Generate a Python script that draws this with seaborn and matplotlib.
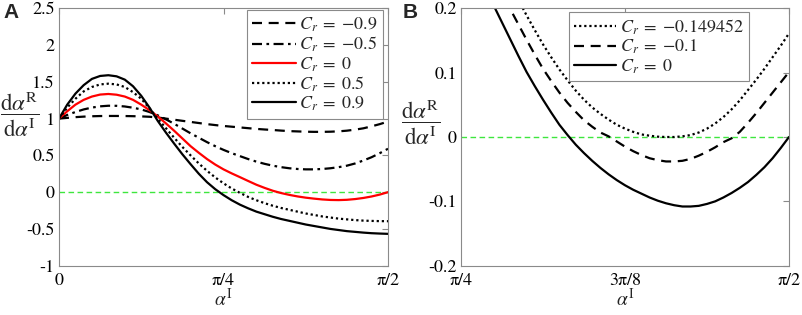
import numpy as np
import pandas as pd
import matplotlib
matplotlib.use("Agg")
import matplotlib.pyplot as plt
import seaborn as sns

# ---------------- data ----------------
# Panel A: alpha^I sampled at fractions of pi/2 (step 0.025)
tA = [0.000, 0.025, 0.050, 0.075, 0.100, 0.125, 0.150, 0.175, 0.200, 0.225,
      0.250, 0.275, 0.300, 0.325, 0.350, 0.375, 0.400, 0.425, 0.450, 0.475,
      0.500, 0.525, 0.550, 0.575, 0.600, 0.625, 0.650, 0.675, 0.700, 0.725,
      0.750, 0.775, 0.800, 0.825, 0.850, 0.875, 0.900, 0.925, 0.950, 0.975, 1.000]
A_cr_m09 = [1.0, 1.01, 1.02, 1.027, 1.032, 1.035, 1.036, 1.036, 1.035, 1.033,
            1.03, 1.025, 1.015, 1.0, 0.985, 0.97, 0.955, 0.94, 0.925, 0.912,
            0.90, 0.89, 0.88, 0.87, 0.86, 0.852, 0.845, 0.837, 0.83, 0.826,
            0.822, 0.82, 0.82, 0.822, 0.827, 0.836, 0.85, 0.868, 0.895, 0.925, 0.96]
A_cr_m05 = [1.0, 1.05, 1.09, 1.125, 1.15, 1.167, 1.175, 1.174, 1.165, 1.148,
            1.125, 1.09, 1.045, 0.99, 0.93, 0.865, 0.80, 0.74, 0.68, 0.625,
            0.575, 0.53, 0.49, 0.45, 0.415, 0.385, 0.36, 0.34, 0.325, 0.315,
            0.31, 0.31, 0.315, 0.325, 0.34, 0.36, 0.39, 0.43, 0.475, 0.53, 0.59]
A_cr_0 = [1.0, 1.10, 1.19, 1.255, 1.30, 1.327, 1.335, 1.325, 1.30, 1.255,
          1.19, 1.115, 1.03, 0.935, 0.835, 0.73, 0.625, 0.535, 0.45, 0.375,
          0.31, 0.255, 0.204, 0.152, 0.101, 0.058, 0.019, -0.012, -0.037, -0.058,
          -0.075, -0.088, -0.099, -0.106, -0.108, -0.104, -0.094, -0.079, -0.059, -0.033, 0.0]
A_cr_05 = [1.0, 1.15, 1.27, 1.37, 1.43, 1.465, 1.475, 1.465, 1.43, 1.36,
           1.27, 1.14, 1.0, 0.87, 0.74, 0.615, 0.50, 0.39, 0.29, 0.20,
           0.12, 0.05, -0.01, -0.065, -0.11, -0.15, -0.185, -0.215, -0.24, -0.265,
           -0.29, -0.31, -0.33, -0.345, -0.36, -0.37, -0.38, -0.387, -0.391, -0.394, -0.395]
A_cr_09 = [1.0, 1.19, 1.34, 1.455, 1.54, 1.58, 1.59, 1.575, 1.53, 1.44,
           1.31, 1.15, 0.97, 0.81, 0.66, 0.515, 0.38, 0.25, 0.135, 0.04,
           -0.04, -0.11, -0.17, -0.22, -0.265, -0.30, -0.335, -0.365, -0.39, -0.415,
           -0.44, -0.46, -0.48, -0.50, -0.515, -0.53, -0.54, -0.55, -0.558, -0.563, -0.567]
A_labels = [r"$C_r\;=\;{-0.9}$", r"$C_r\;=\;{-0.5}$", r"$C_r\;=\;0$",
            r"$C_r\;=\;0.5$", r"$C_r\;=\;0.9$"]

# Panel B: alpha^I sampled at fractions of the interval [pi/4, pi/2] (step 0.025)
tB = tA
B_cr_crit = [0.40, 0.372, 0.344, 0.317, 0.29, 0.264, 0.238, 0.213, 0.189, 0.166,
             0.144, 0.124, 0.105, 0.088, 0.072, 0.058, 0.046, 0.036, 0.027, 0.019,
             0.013, 0.008, 0.004, 0.002, 0.0005, 0.0, 0.0, 0.001, 0.003, 0.007,
             0.013, 0.021, 0.031, 0.043, 0.057, 0.073, 0.089, 0.106, 0.124, 0.142, 0.161]
B_cr_m01 = [0.355, 0.328, 0.301, 0.275, 0.249, 0.224, 0.199, 0.175, 0.151, 0.128,
            0.106, 0.087, 0.069, 0.053, 0.039, 0.026, 0.016, 0.007, 0.001, -0.007,
            -0.015, -0.022, -0.028, -0.033, -0.036, -0.038, -0.038, -0.037, -0.034, -0.029,
            -0.023, -0.016, -0.008, -0.002, 0.008, 0.022, 0.037, 0.053, 0.069, 0.085, 0.101]
B_cr_0 = [0.31, 0.282, 0.255, 0.229, 0.204, 0.178, 0.152, 0.126, 0.101, 0.079,
          0.058, 0.038, 0.019, 0.003, -0.012, -0.025, -0.037, -0.048, -0.058, -0.067,
          -0.075, -0.082, -0.088, -0.094, -0.099, -0.103, -0.106, -0.108, -0.108, -0.107,
          -0.104, -0.100, -0.094, -0.087, -0.079, -0.070, -0.059, -0.047, -0.033, -0.017, 0.0]
B_labels = [r"$C_r\;=\;{-0.149452}$", r"$C_r\;=\;{-0.1}$", r"$C_r\;=\;0$"]

A_xticklabels = ["0", "π/4", "π/2"]
A_yticklabels = ["-1", "-0.5", "0", "0.5", "1", "1.5", "2", "2.5"]
B_xticklabels = ["π/4", "3π/8", "π/2"]
B_yticklabels = ["-0.2", "-0.1", "0", "0.1", "0.2"]

# ---------------- styling ----------------
sns.set_style("white")
plt.rcParams["font.family"] = ["STIXGeneral", "DejaVu Serif"]
plt.rcParams["mathtext.fontset"] = "stix"
plt.rcParams["axes.unicode_minus"] = True

fig = plt.figure(figsize=(8.03, 3.15), dpi=100)
W, H = 803, 315
axA = fig.add_axes([59 / W, (H - 265.7) / H, (388 - 59) / W, (265.7 - 8.3) / H])
axB = fig.add_axes([461 / W, (H - 265.7) / H, (789 - 461) / W, (265.7 - 8.3) / H])

spine_col = "#8a8a8a"
green = "#3ee63e"
dot = (0, (1, 1.3))
dashed = (0, (4.5, 3))
dashdot = (0, (4.5, 2, 1.2, 2))

# Panel A
alphaA = np.pi / 2 * np.array(tA)
axA.axhline(0, color=green, lw=1.0, ls=(0, (4, 2.5)), zorder=1)
seriesA = [A_cr_m09, A_cr_m05, A_cr_0, A_cr_05, A_cr_09]
stylesA = [("black", dashed), ("black", dashdot), ("red", "-"), ("black", dot), ("black", "-")]
for vals, lab, (c, ls) in zip(seriesA, A_labels, stylesA):
    df = pd.DataFrame({"x": alphaA, "y": vals})
    sns.lineplot(data=df, x="x", y="y", ax=axA, color=c, linestyle=ls, lw=1.6,
                 label=lab, sort=False)
axA.set_xlim(0, np.pi / 2)
axA.set_ylim(-1, 2.5)
axA.set_xticks([0, np.pi / 4, np.pi / 2])
axA.set_xticklabels(A_xticklabels)
axA.set_yticks(np.arange(-1, 2.51, 0.5))
axA.set_yticklabels(A_yticklabels)

# Panel B
alphaB = np.pi / 4 + np.pi / 4 * np.array(tB)
axB.axhline(0, color=green, lw=1.0, ls=(0, (4, 2.5)), zorder=1)
seriesB = [B_cr_crit, B_cr_m01, B_cr_0]
stylesB = [("black", dot), ("black", dashed), ("black", "-")]
for vals, lab, (c, ls) in zip(seriesB, B_labels, stylesB):
    df = pd.DataFrame({"x": alphaB, "y": vals})
    sns.lineplot(data=df, x="x", y="y", ax=axB, color=c, linestyle=ls, lw=1.6,
                 label=lab, sort=False)
axB.set_xlim(np.pi / 4, np.pi / 2)
axB.set_ylim(-0.2, 0.2)
axB.set_xticks([np.pi / 4, 3 * np.pi / 8, np.pi / 2])
axB.set_xticklabels(B_xticklabels)
axB.set_yticks([-0.2, -0.1, 0, 0.1, 0.2])
axB.set_yticklabels(B_yticklabels)

ylab = r"$\dfrac{\mathrm{d}\alpha^{\mathrm{R}}}{\mathrm{d}\alpha^{\mathrm{I}}}$"
for ax in (axA, axB):
    for s in ax.spines.values():
        s.set_color(spine_col)
        s.set_linewidth(0.8)
    ax.tick_params(direction="in", length=4, width=0.8, color=spine_col,
                   top=True, right=True, labelsize=13, labelcolor="black")
    ax.tick_params(axis="x", pad=5)
    ax.tick_params(axis="y", pad=3)
    ax.set_xlabel(r"$\alpha^{\mathrm{I}}$", fontsize=14, labelpad=0)
    ax.set_ylabel(ylab, fontsize=16.5, rotation=0, va="center", ha="center")

axA.yaxis.set_label_coords(-0.119, 0.589)
axB.yaxis.set_label_coords(-0.122, 0.559)
axA.xaxis.set_label_coords(0.5, -0.085)
axB.xaxis.set_label_coords(0.5, -0.085)

legA = axA.legend(loc="upper right", bbox_to_anchor=(0.985, 0.993), fontsize=13,
                  frameon=True, fancybox=False, framealpha=1, edgecolor=spine_col,
                  handlelength=2.4, handletextpad=0.2, labelspacing=0.05,
                  borderpad=0.3, borderaxespad=0.0)
legA.get_frame().set_linewidth(0.8)
legB = axB.legend(loc="upper right", bbox_to_anchor=(0.878, 0.985), fontsize=13,
                  frameon=True, fancybox=False, framealpha=1, edgecolor=spine_col,
                  handlelength=2.3, handletextpad=0.2, labelspacing=0.05,
                  borderpad=0.3, borderaxespad=0.0)
legB.get_frame().set_linewidth(0.8)

fig.text(3 / W, 1 - 13 / H, "A", fontsize=15, fontweight="bold",
         family="Liberation Sans", va="center", ha="left")
fig.text(403 / W, 1 - 13 / H, "B", fontsize=15, fontweight="bold",
         family="Liberation Sans", va="center", ha="left")

fig.savefig("out.png", dpi=100)
